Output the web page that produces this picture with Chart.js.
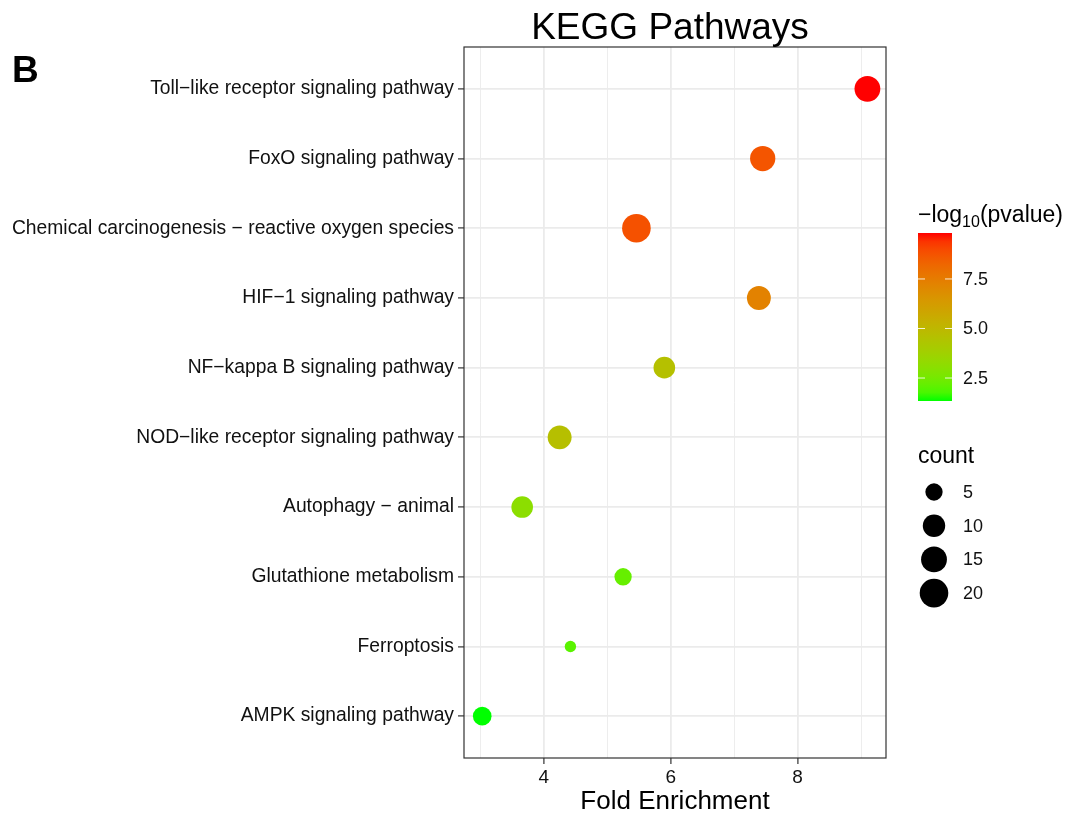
<!DOCTYPE html>
<html>
<head>
<meta charset="utf-8">
<script src="https://cdn.jsdelivr.net/npm/chart.js@4/dist/chart.umd.min.js"></script>
<style>
  body { margin: 0; background: #fff; }
  canvas { display: block; }
</style>
</head>
<body>
<canvas id="dotChart" width="1065" height="816"></canvas>
<script>
// KEGG enrichment values, top row first
const pathways = [
    'Toll\u2212like receptor signaling pathway',
    'FoxO signaling pathway',
    'Chemical carcinogenesis \u2212 reactive oxygen species',
    'HIF\u22121 signaling pathway',
    'NF\u2212kappa B signaling pathway',
    'NOD\u2212like receptor signaling pathway',
    'Autophagy \u2212 animal',
    'Glutathione metabolism',
    'Ferroptosis',
    'AMPK signaling pathway',
]
const foldEnrichment = [9.10, 7.45, 5.46, 7.39, 5.90, 4.25, 3.66, 5.25, 4.42, 3.03]
const geneCount = [15, 14, 20, 12, 9, 12, 9, 5, 3, 6]
const negLog10P = [9.82, 8.7, 8.8, 7.3, 4.6, 4.65, 3.1, 2.2, 2.0, 1.34]

const xBreaks = [4, 6, 8]
const colorBreaks = [2.5, 5.0, 7.5]
const sizeBreaks = [5, 10, 15, 20]

const FONT = '"Liberation Sans", Arial, Helvetica, sans-serif'
const LOW_COLOR = [0, 255, 0]
const HIGH_COLOR = [255, 0, 0]
const R_MIN = 5.7
const R_MAX = 14.3

const pMin = Math.min(...negLog10P)
const pMax = Math.max(...negLog10P)
const cMin = Math.min(...geneCount)
const cMax = Math.max(...geneCount)

// ---- colour helpers (gradient interpolated in Lab, like ggplot) ----
function toLinear(c) {
    c = c / 255
    return c <= 0.04045 ? c / 12.92 : Math.pow((c + 0.055) / 1.055, 2.4)
}
function fromLinear(c) {
    c = c <= 0.0031308 ? 12.92 * c : 1.055 * Math.pow(c, 1 / 2.4) - 0.055
    return Math.round(Math.min(1, Math.max(0, c)) * 255)
}
function rgbToLab(rgb) {
    const [r, g, b] = rgb.map(toLinear)
    const x = (0.4124 * r + 0.3576 * g + 0.1805 * b) / 0.95047
    const y = (0.2126 * r + 0.7152 * g + 0.0722 * b)
    const z = (0.0193 * r + 0.1192 * g + 0.9505 * b) / 1.08883
    const f = t => t > 0.008856 ? Math.cbrt(t) : 7.787 * t + 16 / 116
    return [116 * f(y) - 16, 500 * (f(x) - f(y)), 200 * (f(y) - f(z))]
}
function labToRgb(lab) {
    const fy = (lab[0] + 16) / 116
    const fx = fy + lab[1] / 500
    const fz = fy - lab[2] / 200
    const inv = t => t > 0.206893 ? t * t * t : (t - 16 / 116) / 7.787
    const x = inv(fx) * 0.95047, y = inv(fy), z = inv(fz) * 1.08883
    const r = 3.2406 * x - 1.5372 * y - 0.4986 * z
    const g = -0.9689 * x + 1.8758 * y + 0.0415 * z
    const b = 0.0557 * x - 0.2040 * y + 1.0570 * z
    return [fromLinear(r), fromLinear(g), fromLinear(b)]
}
const lowLab = rgbToLab(LOW_COLOR)
const highLab = rgbToLab(HIGH_COLOR)
function colorFor(value) {
    const t = Math.min(1, Math.max(0, (value - pMin) / (pMax - pMin)))
    const lab = lowLab.map((v, i) => v + (highLab[i] - v) * t)
    const [r, g, b] = labToRgb(lab)
    return 'rgb(' + r + ',' + g + ',' + b + ')'
}
function radiusFor(count) {
    const t = Math.max(0, (count - cMin) / (cMax - cMin))
    return R_MIN + (R_MAX - R_MIN) * Math.sqrt(t)
}

function getMinorBreaks(breaks) {
    const step = breaks[1] - breaks[0]
    const result = [breaks[0] - step / 2]
    for (const b of breaks) result.push(b, b + step / 2)
    return result
}

const pageDecorations = {
    id: 'pageDecorations',
    afterDatasetsDraw(chart) {
        const ctx = chart.ctx
        const area = chart.chartArea
        ctx.save()
        // panel border
        ctx.strokeStyle = '#333333'
        ctx.lineWidth = 1.2
        ctx.strokeRect(area.left, area.top, area.right - area.left, area.bottom - area.top)
        ctx.restore()
    },
    afterDraw(chart) {
        const ctx = chart.ctx
        const area = chart.chartArea
        ctx.save()
        ctx.fillStyle = '#000'
        ctx.textBaseline = 'alphabetic'

        // title
        ctx.font = '37px ' + FONT
        ctx.textAlign = 'center'
        ctx.fillText('KEGG Pathways', (area.left + area.right) / 2 - 5, 39)

        // panel letter
        ctx.font = 'bold 37px ' + FONT
        ctx.textAlign = 'left'
        ctx.fillText('B', 12, 82)

        // colour legend title with subscript
        const lx = 918
        ctx.font = '23px ' + FONT
        ctx.fillText('\u2212log', lx, 222)
        let w = ctx.measureText('\u2212log').width
        ctx.font = '16px ' + FONT
        ctx.fillText('10', lx + w, 227)
        w += ctx.measureText('10').width
        ctx.font = '23px ' + FONT
        ctx.fillText('(pvalue)', lx + w, 222)

        // colour bar
        const barTop = 233, barBottom = 401, barLeft = 918, barRight = 952
        const grad = ctx.createLinearGradient(0, barBottom, 0, barTop)
        for (let i = 0; i <= 20; i++) {
            grad.addColorStop(i / 20, colorFor(pMin + (pMax - pMin) * i / 20))
        }
        ctx.fillStyle = grad
        ctx.fillRect(barLeft, barTop, barRight - barLeft, barBottom - barTop)
        ctx.font = '18px ' + FONT
        ctx.textBaseline = 'middle'
        for (const v of colorBreaks) {
            const y = barBottom - (v - pMin) / (pMax - pMin) * (barBottom - barTop)
            ctx.strokeStyle = 'rgba(255,255,255,0.85)'
            ctx.lineWidth = 1
            ctx.beginPath()
            ctx.moveTo(barLeft, y); ctx.lineTo(barLeft + 7, y)
            ctx.moveTo(barRight - 7, y); ctx.lineTo(barRight, y)
            ctx.stroke()
            ctx.fillStyle = '#111'
            ctx.fillText(v.toFixed(1), 963, y + 1)
        }

        // size legend
        ctx.textBaseline = 'alphabetic'
        ctx.fillStyle = '#000'
        ctx.font = '23px ' + FONT
        ctx.fillText('count', 918, 463)
        ctx.font = '18px ' + FONT
        ctx.textBaseline = 'middle'
        sizeBreaks.forEach((s, i) => {
            const y = 492 + i * 33.7
            ctx.beginPath()
            ctx.arc(934, y, radiusFor(s), 0, Math.PI * 2)
            ctx.fillStyle = '#000'
            ctx.fill()
            ctx.fillStyle = '#111'
            ctx.fillText(String(s), 963, y + 1)
        })
        ctx.restore()
    }
}

document.addEventListener('DOMContentLoaded', function () {
    const canvas = document.getElementById('dotChart').getContext('2d')
    const points = pathways.map((name, i) => ({ x: foldEnrichment[i], y: i }))
    const xGrid = getMinorBreaks(xBreaks)

    new Chart(canvas, {
        type: 'scatter',
        data: {
            datasets: [{
                data: points,
                pointRadius: ctx => radiusFor(geneCount[ctx.dataIndex]),
                pointHoverRadius: ctx => radiusFor(geneCount[ctx.dataIndex]),
                pointBackgroundColor: ctx => colorFor(negLog10P[ctx.dataIndex]),
                pointBorderWidth: 0,
                pointBorderColor: 'rgba(0,0,0,0)',
            }]
        },
        options: {
            responsive: false,
            animation: false,
            devicePixelRatio: 1,
            layout: { padding: { left: 0, right: 179, top: 47, bottom: 0 } },
            plugins: {
                legend: { display: false },
                tooltip: { enabled: false },
            },
            scales: {
                x: {
                    type: 'linear',
                    min: 2.743,
                    max: 9.393,
                    afterBuildTicks: scale => { scale.ticks = xGrid.map(v => ({ value: v })) },
                    afterFit: scale => { scale.height = 58 },
                    border: { display: false },
                    grid: {
                        color: '#EBEBEB',
                        lineWidth: ctx => xBreaks.includes(ctx.tick.value) ? 1.8 : 0.9,
                        tickColor: ctx => xBreaks.includes(ctx.tick.value) ? '#333333' : 'rgba(0,0,0,0)',
                        tickWidth: 1.2,
                        tickLength: 6,
                    },
                    ticks: {
                        autoSkip: false,
                        maxRotation: 0,
                        padding: 2,
                        color: '#111',
                        font: { family: FONT, size: 19 },
                        callback: v => xBreaks.includes(v) ? String(v) : '',
                    },
                    title: {
                        display: true,
                        text: 'Fold Enrichment',
                        color: '#000',
                        font: { family: FONT, size: 26, lineHeight: 1 },
                        padding: { top: 0, bottom: 1 },
                    },
                },
                y: {
                    type: 'linear',
                    min: -0.6,
                    max: pathways.length - 1 + 0.6,
                    reverse: true,
                    afterBuildTicks: scale => { scale.ticks = pathways.map((p, i) => ({ value: i })) },
                    afterFit: scale => { scale.width = 464 },
                    border: { display: false },
                    grid: {
                        color: '#EBEBEB',
                        lineWidth: 1.8,
                        tickColor: '#333333',
                        tickWidth: 1.2,
                        tickLength: 6,
                    },
                    ticks: {
                        autoSkip: false,
                        padding: 4,
                        color: '#111',
                        font: { family: FONT, size: 19.3 },
                        callback: v => pathways[v],
                    },
                },
            },
        },
        plugins: [pageDecorations],
    })
})
</script>
</body>
</html>
